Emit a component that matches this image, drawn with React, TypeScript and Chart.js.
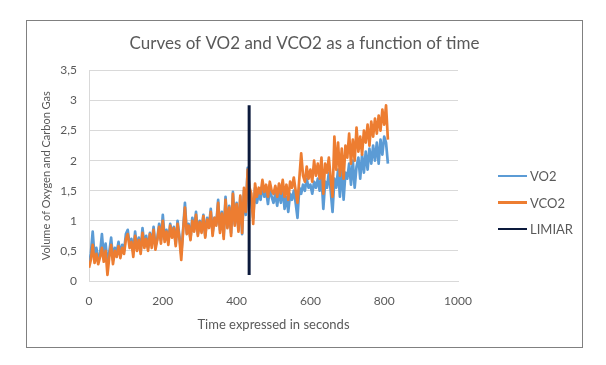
import React, { useEffect, useRef } from "react";
import { Chart, registerables } from "chart.js";

Chart.register(...registerables);

const TITLE = "Curves of VO2 and VCO2 as a function of time";
const X_TITLE = "Time expressed in seconds";
const Y_TITLE = "Volume of Oxygen and Carbon Gas";

const TIME = [
  0, 5, 10, 15, 20, 25, 30, 35, 40, 45, 50, 55, 60, 65, 70, 75, 80, 85, 90, 95,
  100, 105, 110, 115, 120, 125, 130, 135, 140, 145, 150, 155, 160, 165, 170, 175, 180, 185, 190, 195,
  200, 205, 210, 215, 220, 225, 230, 235, 240, 245, 250, 255, 260, 265, 270, 275, 280, 285, 290, 295,
  300, 305, 310, 315, 320, 325, 330, 335, 340, 345, 350, 355, 360, 365, 370, 375, 380, 385, 390, 395,
  400, 405, 410, 415, 420, 425, 430, 435, 440, 445, 450, 455, 460, 465, 470, 475, 480, 485, 490, 495,
  500, 505, 510, 515, 520, 525, 530, 535, 540, 545, 550, 555, 560, 565, 570, 575, 580, 585, 590, 595,
  600, 605, 610, 615, 620, 625, 630, 635, 640, 645, 650, 655, 660, 665, 670, 675, 680, 685, 690, 695,
  700, 705, 710, 715, 720, 725, 730, 735, 740, 745, 750, 755, 760, 765, 770, 775, 780, 785, 790, 795,
  800, 805, 810,
];

const VO2 = [
  0.3, 0.45, 0.82, 0.4, 0.55, 0.35, 0.45, 0.78, 0.4, 0.62,
  0.3, 0.48, 0.72, 0.35, 0.55, 0.48, 0.65, 0.45, 0.6, 0.5,
  0.78, 0.85, 0.6, 0.7, 0.48, 0.82, 0.55, 0.72, 0.5, 0.88,
  0.6, 0.75, 0.55, 0.8, 0.62, 0.9, 0.58, 0.7, 0.95, 0.68,
  1.1, 0.7, 0.85, 0.65, 0.95, 0.78, 0.9, 0.62, 1.0, 0.75,
  0.45, 0.85, 1.3, 0.8, 0.95, 0.7, 1.05, 0.85, 1.15, 0.78,
  1.0, 0.85, 1.1, 0.75, 1.05, 0.9, 1.2, 0.8, 1.05, 0.95,
  1.35, 0.85, 1.15, 0.75, 1.4, 0.9, 1.25, 0.8, 1.48, 0.95,
  1.3, 0.85, 1.4, 0.78, 1.5, 1.1, 1.88, 1.45, 1.35, 1.05,
  1.55, 1.3, 1.45, 1.35, 1.6, 1.4, 1.5, 1.28, 1.55, 1.4,
  1.3, 1.45, 1.25, 1.5, 1.3, 1.55, 1.2, 1.4, 1.15, 1.45,
  1.35, 1.5, 1.3, 1.05, 1.55, 1.45, 1.6, 1.5, 1.7, 1.55,
  1.6, 1.45, 1.65, 1.55, 1.7, 1.5, 1.75, 1.2, 1.65, 1.55,
  1.8, 1.5, 1.15, 1.7, 1.55, 1.85, 1.4, 1.9, 1.35, 1.8,
  1.7, 1.95, 1.6, 2.0, 1.55, 1.9, 2.05, 1.7, 2.1, 1.8,
  2.15, 1.85, 2.2, 1.95, 2.25, 2.0, 2.3, 1.95, 2.35, 2.1,
  2.4, 2.3, 1.95,
];

const VCO2 = [
  0.22, 0.35, 0.6, 0.3, 0.45, 0.28, 0.4, 0.55, 0.32, 0.5,
  0.1, 0.4, 0.6, 0.28, 0.5, 0.4, 0.58, 0.38, 0.55, 0.45,
  0.7, 0.78, 0.55, 0.65, 0.4, 0.75, 0.5, 0.68, 0.45, 0.8,
  0.55, 0.7, 0.5, 0.78, 0.55, 0.85, 0.52, 0.68, 0.9, 0.62,
  1.0, 0.65, 0.82, 0.6, 0.92, 0.72, 0.88, 0.58, 0.95, 0.7,
  0.35, 0.82, 1.22, 0.78, 0.92, 0.68, 1.0, 0.82, 1.1, 0.75,
  0.98, 0.8, 1.08, 0.72, 1.02, 0.88, 1.15, 0.75, 1.05, 0.92,
  1.3, 0.8, 1.12, 0.7, 1.35, 0.88, 1.22, 0.75, 1.45, 0.92,
  1.28, 0.82, 1.42, 0.8, 1.55, 1.15, 1.85, 1.55, 1.45, 0.95,
  1.62, 1.4, 1.55, 1.45, 1.68, 1.48, 1.6, 1.4, 1.65, 1.5,
  1.45, 1.58, 1.4, 1.62, 1.45, 1.68, 1.4, 1.6, 1.35, 1.65,
  1.55, 1.72, 1.5, 1.3, 1.7, 2.12, 1.75, 1.65, 1.9, 1.7,
  1.85, 1.65, 2.0, 1.75, 1.95, 1.7, 2.05, 1.45, 1.95, 1.8,
  2.05, 1.7, 1.4, 2.4, 1.85, 2.3, 1.75, 2.2, 1.7, 2.25,
  2.05, 2.45, 1.95, 2.35, 2.0, 2.55, 2.15, 2.4, 2.1, 2.5,
  2.3, 2.6, 2.25, 2.65, 2.4, 2.7, 2.45, 2.75, 2.5, 2.85,
  2.6, 2.92, 2.35,
];

const LIMIAR_X = [434, 434];
const LIMIAR_Y = [0.1, 2.92];

const SERIES_NAMES = ["VO2", "VCO2", "LIMIAR"];
const SERIES_COLORS = ["#5b9bd5", "#ed7d31", "#0c1a3c"];

const X_MIN = 0;
const X_MAX = 1000;
const X_STEP = 200;
const Y_MIN = 0;
const Y_MAX = 3.5;
const Y_STEP = 0.5;

const FONT = "Lato, 'Open Sans', sans-serif";
const TEXT_COLOR = "#595959";

export default function App() {
  const canvasRef = useRef<HTMLCanvasElement | null>(null);

  useEffect(() => {
    if (!canvasRef.current) return;
    const toPoints = (xs: number[], ys: number[]) => xs.map((x, i) => ({ x, y: ys[i] }));
    const chart = new Chart(canvasRef.current, {
      type: "line",
      data: {
        datasets: [
          {
            label: SERIES_NAMES[0],
            data: toPoints(TIME, VO2),
            borderColor: SERIES_COLORS[0],
            backgroundColor: SERIES_COLORS[0],
            borderWidth: 2.7,
            pointRadius: 0,
            tension: 0,
            borderJoinStyle: "round",
            order: 2,
          },
          {
            label: SERIES_NAMES[1],
            data: toPoints(TIME, VCO2),
            borderColor: SERIES_COLORS[1],
            backgroundColor: SERIES_COLORS[1],
            borderWidth: 2.7,
            pointRadius: 0,
            tension: 0,
            borderJoinStyle: "round",
            order: 1,
          },
          {
            label: SERIES_NAMES[2],
            data: toPoints(LIMIAR_X, LIMIAR_Y),
            borderColor: SERIES_COLORS[2],
            backgroundColor: SERIES_COLORS[2],
            borderWidth: 3,
            pointRadius: 0,
            tension: 0,
            order: 0,
          },
        ],
      },
      options: {
        animation: false,
        responsive: false,
        parsing: false as any,
        layout: { padding: { top: 0, left: 0, right: 0, bottom: 0 } },
        plugins: {
          legend: { display: false },
          tooltip: { enabled: false },
          title: {
            display: true,
            text: TITLE,
            color: TEXT_COLOR,
            font: { family: FONT, size: 17, weight: "normal" as any },
            padding: { top: 12, bottom: 17 },
          },
        },
        scales: {
          x: {
            type: "linear",
            min: X_MIN,
            max: X_MAX,
            grid: { display: false, drawTicks: false },
            border: { display: true, color: "#d9d9d9", width: 1 },
            ticks: {
              stepSize: X_STEP,
              color: TEXT_COLOR,
              font: { family: FONT, size: 12 },
              padding: 13,
              maxRotation: 0,
              callback: (v: any) => String(v),
            },
            title: {
              display: true,
              text: X_TITLE,
              color: TEXT_COLOR,
              font: { family: FONT, size: 13 },
              padding: { top: 0, bottom: 14 },
            },
            afterFit: (scale: any) => {
              scale.height = 66;
            },
          },
          y: {
            type: "linear",
            position: "left",
            min: Y_MIN,
            max: Y_MAX,
            grid: { display: true, color: "#d9d9d9", lineWidth: 1, drawTicks: false },
            border: { display: true, color: "#d9d9d9", width: 1 },
            ticks: {
              stepSize: Y_STEP,
              color: TEXT_COLOR,
              font: { family: FONT, size: 12 },
              padding: 12,
              callback: (v: any) => String(v).replace(".", ","),
            },
            title: {
              display: true,
              text: Y_TITLE,
              color: TEXT_COLOR,
              font: { family: FONT, size: 11 },
              padding: { top: 13, bottom: 0 },
            },
            afterFit: (scale: any) => {
              scale.width = 62;
            },
          },
          legendSpace: {
            type: "linear",
            position: "right",
            display: true,
            grid: { display: false, drawTicks: false },
            border: { display: false },
            ticks: { display: false },
            title: { display: false },
            afterFit: (scale: any) => {
              scale.width = 124;
            },
          },
        },
      },
    } as any);
    return () => chart.destroy();
  }, []);

  return (
    <div style={{ position: "absolute", left: 0, top: 0, width: 606, height: 365, background: "#ffffff" }}>
      <div
        style={{
          position: "absolute",
          left: 26,
          top: 20,
          width: 555,
          height: 326,
          border: "1px solid #808080",
          background: "#ffffff",
        }}
      >
        <canvas ref={canvasRef} width={555} height={326} style={{ display: "block" }} />
        {SERIES_NAMES.map((name, i) => (
          <div
            key={name}
            style={{
              position: "absolute",
              left: 471,
              top: 147 + i * 26.5,
              height: 16,
              display: "flex",
              alignItems: "center",
              fontFamily: FONT,
              fontSize: 13,
              color: TEXT_COLOR,
              whiteSpace: "nowrap",
            }}
          >
            <span
              style={{
                display: "inline-block",
                width: 29,
                height: 2.5,
                background: SERIES_COLORS[i],
                marginRight: 3,
              }}
            />
            {name}
          </div>
        ))}
      </div>
    </div>
  );
}
